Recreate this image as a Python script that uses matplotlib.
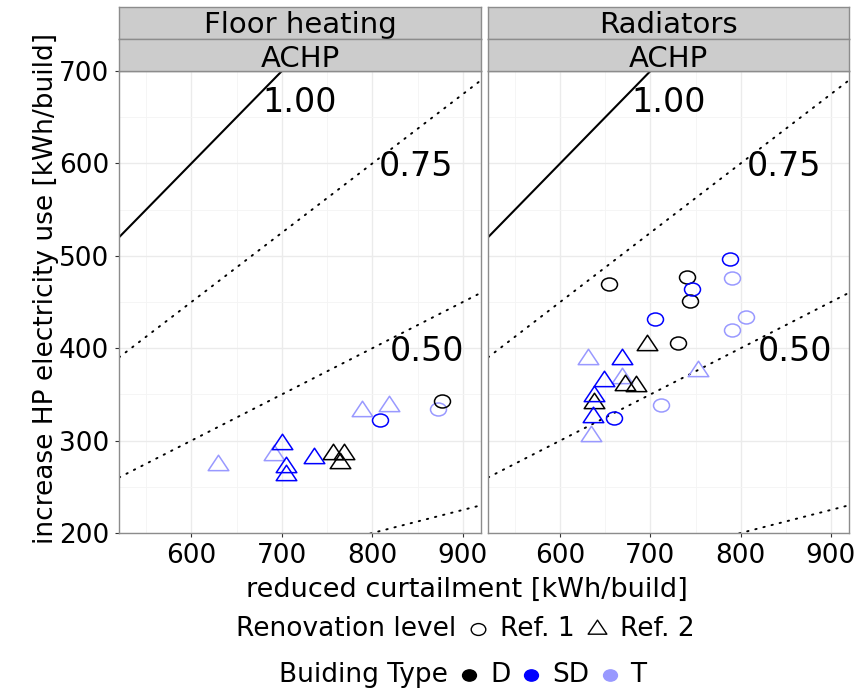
import numpy as np
import matplotlib
matplotlib.use("Agg")
import matplotlib.pyplot as plt
from matplotlib.path import Path
from matplotlib.markers import MarkerStyle
from matplotlib.lines import Line2D
from matplotlib.offsetbox import TextArea, DrawingArea, HPacker, AnchoredOffsetbox

plt.rcParams['font.family'] = ['DejaVu Sans']

# ---------------- data ----------------
panels = ['Floor heating', 'Radiators']
hp_label = 'ACHP'
building_types = ['T', 'D', 'SD']          # drawing order
type_colors = {'D': '#000000', 'SD': '#0000FF', 'T': '#9999FF'}
legend_types = ['D', 'SD', 'T']
renovation_levels = ['Ref. 1', 'Ref. 2']

ratio_slopes = [1.00, 0.75, 0.50, 0.25]
ratio_labels = ['1.00', '0.75', '0.50']
ratio_label_x = [720, 848, 860]
ratio_label_y = [656, 586, 386]

x_ticks = [600, 700, 800, 900]
y_ticks = [200, 300, 400, 500, 600, 700]

# Floor heating
fh_D_ref1_x = [877];            fh_D_ref1_y = [343]
fh_SD_ref1_x = [808];           fh_SD_ref1_y = [322]
fh_T_ref1_x = [873];            fh_T_ref1_y = [334]
fh_D_ref2_x = [757, 769, 764];  fh_D_ref2_y = [285, 286, 276]
fh_SD_ref2_x = [700, 704, 704, 736]; fh_SD_ref2_y = [296, 271, 263, 281]
fh_T_ref2_x = [629, 691, 789, 818];  fh_T_ref2_y = [274, 284, 332, 337]

# Radiators
rad_D_ref1_x = [654, 740, 744, 731];  rad_D_ref1_y = [469, 477, 451, 406]
rad_SD_ref1_x = [788, 746, 705, 660]; rad_SD_ref1_y = [497, 464, 432, 324]
rad_T_ref1_x = [790, 806, 790, 712];  rad_T_ref1_y = [476, 434, 420, 339]
rad_D_ref2_x = [696, 672, 684, 637];  rad_D_ref2_y = [404, 360, 359, 341]
rad_SD_ref2_x = [668, 648, 638, 636]; rad_SD_ref2_y = [388, 365, 348, 325]
rad_T_ref2_x = [631, 668, 753, 634];  rad_T_ref2_y = [388, 368, 375, 305]

panel_data = {
    'Floor heating': {
        ('D', 'Ref. 1'): (fh_D_ref1_x, fh_D_ref1_y),
        ('SD', 'Ref. 1'): (fh_SD_ref1_x, fh_SD_ref1_y),
        ('T', 'Ref. 1'): (fh_T_ref1_x, fh_T_ref1_y),
        ('D', 'Ref. 2'): (fh_D_ref2_x, fh_D_ref2_y),
        ('SD', 'Ref. 2'): (fh_SD_ref2_x, fh_SD_ref2_y),
        ('T', 'Ref. 2'): (fh_T_ref2_x, fh_T_ref2_y),
    },
    'Radiators': {
        ('D', 'Ref. 1'): (rad_D_ref1_x, rad_D_ref1_y),
        ('SD', 'Ref. 1'): (rad_SD_ref1_x, rad_SD_ref1_y),
        ('T', 'Ref. 1'): (rad_T_ref1_x, rad_T_ref1_y),
        ('D', 'Ref. 2'): (rad_D_ref2_x, rad_D_ref2_y),
        ('SD', 'Ref. 2'): (rad_SD_ref2_x, rad_SD_ref2_y),
        ('T', 'Ref. 2'): (rad_T_ref2_x, rad_T_ref2_y),
    },
}

# ---------------- markers ----------------
uc = Path.unit_circle()
circ_path = Path(uc.vertices * np.array([8.0, 6.5]), uc.codes)
tri_path = Path([(0, 10), (10, -5), (-10, -5), (0, 10)],
                [Path.MOVETO, Path.LINETO, Path.LINETO, Path.CLOSEPOLY])
shape_for = {'Ref. 1': (circ_path, 11.5), 'Ref. 2': (tri_path, 14.8)}

# ---------------- layout ----------------
W, H = 868, 692
fig = plt.figure(figsize=(W / 100, H / 100), dpi=100)


def fr(l, t, r, b):
    return [l / W, 1 - b / H, (r - l) / W, (b - t) / H]


panel_boxes = [(119, 71, 481, 533), (488, 71, 849, 533)]
border_col = '#8C8C8C'
strip_col = '#CCCCCC'
TICK_FS = 19

for i, (pname, box) in enumerate(zip(panels, panel_boxes)):
    l, t, r, b = box
    ax = fig.add_axes(fr(l, t, r, b))
    ax.set_xlim(520, 920)
    ax.set_ylim(200, 700)
    ax.set_xticks(x_ticks)
    ax.set_xticks([550, 650, 750, 850], minor=True)
    ax.set_yticks(y_ticks)
    ax.set_yticks([250, 350, 450, 550, 650], minor=True)
    ax.grid(which='major', color='#EBEBEB', lw=1.0)
    ax.grid(which='minor', color='#F4F4F4', lw=0.6)
    ax.set_axisbelow(True)
    for s in ax.spines.values():
        s.set_color(border_col)
        s.set_linewidth(1.0)
    ax.tick_params(which='major', length=2.9, width=0.8, color='#333333',
                   pad=4, labelsize=TICK_FS, labelcolor='black')
    ax.tick_params(which='minor', length=0)
    if i > 0:
        ax.tick_params(axis='y', which='both', length=0, labelleft=False)

    xs = np.array([520, 920])
    for k, s in enumerate(ratio_slopes):
        if k == 0:
            ax.plot(xs, s * xs, color='black', lw=1.5, solid_capstyle='butt', zorder=2)
        else:
            ax.plot(xs, s * xs, color='black', lw=1.4,
                    linestyle=(0, (0.7, 3.6)), dash_capstyle='round', zorder=2)
    for lab, lx, ly in zip(ratio_labels, ratio_label_x, ratio_label_y):
        ax.text(lx, ly, lab, fontsize=24, ha='center', va='baseline', zorder=3)

    for ren in renovation_levels:
        path, ms = shape_for[ren]
        for bt in building_types:
            x, y = panel_data[pname][(bt, ren)]
            ax.plot(x, y, linestyle='none', marker=MarkerStyle(path), ms=ms,
                    mfc='none', mec=type_colors[bt], mew=1.1, zorder=4)

    # strips
    for (st, sb, txt, base) in [(7, 39, pname, 0.19), (39, 71, hp_label, 0.13)]:
        sax = fig.add_axes(fr(l, st, r, sb))
        sax.set_facecolor(strip_col)
        sax.set_xticks([])
        sax.set_yticks([])
        for s in sax.spines.values():
            s.set_color(border_col)
            s.set_linewidth(1.0)
        sax.text(0.5, base, txt, fontsize=21, ha='center', va='baseline',
                 transform=sax.transAxes)

# axis titles
fig.text(467 / W, 1 - 597 / H, 'reduced curtailment [kWh/build]', fontsize=19.5,
         ha='center', va='baseline')
fig.text(53 / W, 1 - 288.5 / H, 'increase HP electricity use [kWh/build]', fontsize=19,
         ha='center', va='baseline', rotation=90, rotation_mode='anchor')


# legends
def marker_box(path, ms, fill, color):
    da = DrawingArea(14, 14, 0, 0)
    ln = Line2D([7], [7], linestyle='none', marker=MarkerStyle(path), ms=ms,
                mfc=color if fill else 'none', mec=color, mew=1.0)
    da.add_artist(ln)
    return da


LEG_FS = 19
items1 = [TextArea('Renovation level', textprops=dict(size=LEG_FS)),
          marker_box(circ_path, 10.5, False, 'black'),
          TextArea('Ref. 1', textprops=dict(size=LEG_FS)),
          marker_box(tri_path, 13.5, False, 'black'),
          TextArea('Ref. 2', textprops=dict(size=LEG_FS))]
pack1 = HPacker(children=items1, align='center', pad=0, sep=9)
ab1 = AnchoredOffsetbox(loc='center', child=pack1, frameon=False, pad=0, borderpad=0,
                        bbox_to_anchor=(465 / W, 1 - 629 / H),
                        bbox_transform=fig.transFigure)
fig.add_artist(ab1)

items2 = [TextArea('Buiding Type', textprops=dict(size=LEG_FS))]
for bt in legend_types:
    items2.append(marker_box(circ_path, 10.0, True, type_colors[bt]))
    items2.append(TextArea(bt, textprops=dict(size=LEG_FS)))
pack2 = HPacker(children=items2, align='center', pad=0, sep=8)
ab2 = AnchoredOffsetbox(loc='center', child=pack2, frameon=False, pad=0, borderpad=0,
                        bbox_to_anchor=(463 / W, 1 - 675 / H),
                        bbox_transform=fig.transFigure)
fig.add_artist(ab2)

fig.savefig('out.png', dpi=100, facecolor='white')
